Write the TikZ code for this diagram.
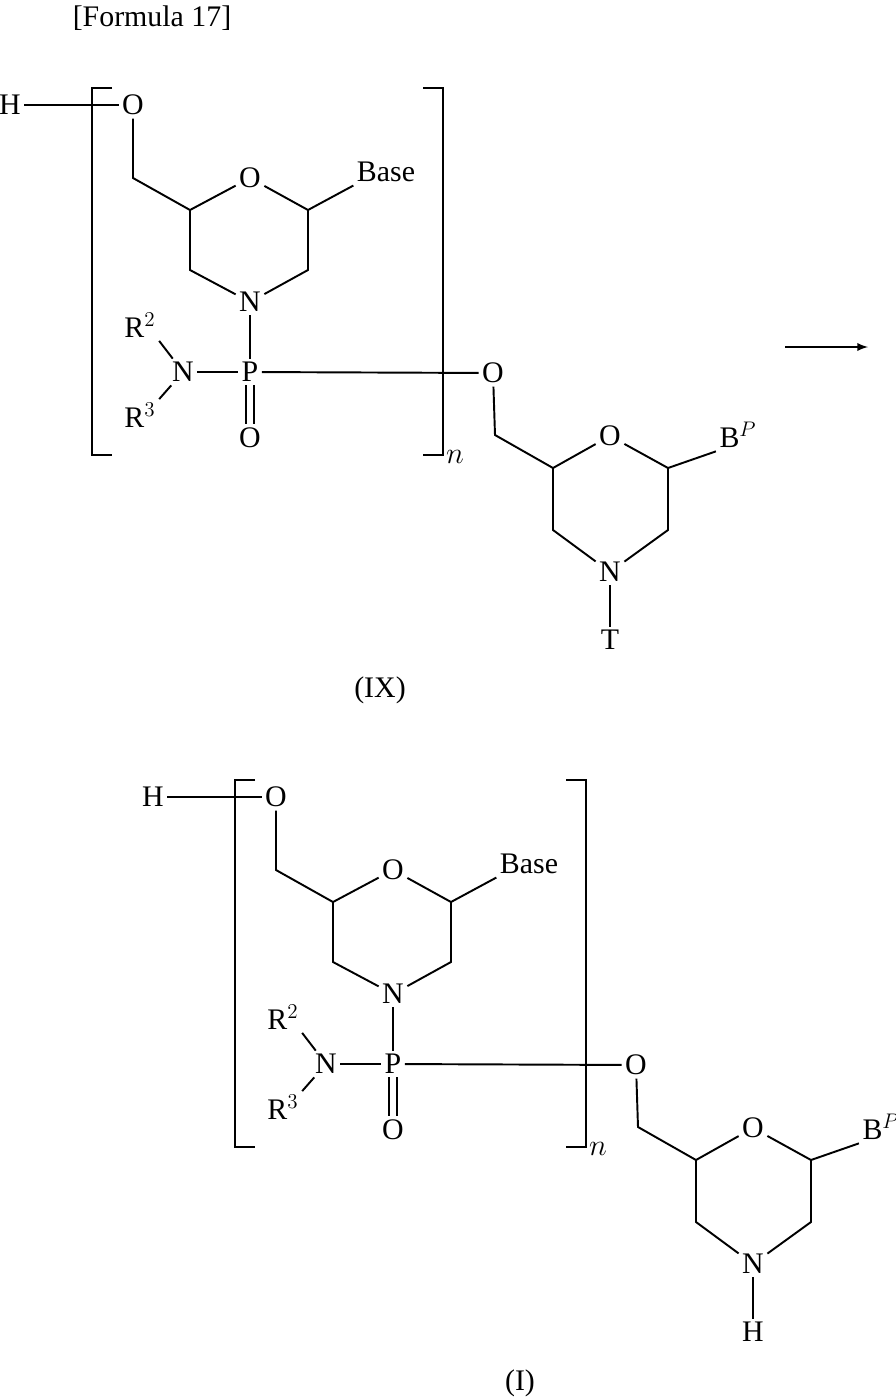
\documentclass[tikz,border=0pt]{standalone}
\usepackage{fontspec}
\setmainfont{Liberation Serif}
\begin{document}
\begin{tikzpicture}[x=0.02cm,y=-0.02cm,line width=1.1pt,
  atom/.style={inner sep=1.5pt,font=\fontsize{17}{20}\selectfont},
  lbl/.style={inner sep=0pt,font=\fontsize{17}{20}\selectfont}]
\useasboundingbox (0,0) rectangle (896,1397);
\node[lbl] (title) at (152,18) {[Formula 17]};
\foreach \dx/\dy/\bot/\s in {0/0/T/a,143/692/H/b}{
\begin{scope}[shift={(\dx,\dy)}]
  \node[atom] (H\s) at (10,105) {H};
  \node[atom] (Oa\s) at (133,105) {O};
  \coordinate (c1\s) at (133,178);
  \coordinate (c2\s) at (190,210);
  \node[atom] (Or\s) at (250,178) {O};
  \coordinate (c3\s) at (308,210);
  \coordinate (c4\s) at (308,270);
  \coordinate (c5\s) at (190,270);
  \node[atom] (N\s) at (250,302) {N};
  \node[atom] (Base\s) at (386,172) {Base};
  \node[atom] (P\s) at (250,372) {P};
  \node[atom] (Op\s) at (250,438) {O};
  \node[atom] (Nr\s) at (183,372) {N};
  \node[atom] (R2\s) at (140,325) {R$^2$};
  \node[atom] (R3\s) at (140,415) {R$^3$};
  \node[atom] (Ob\s) at (493,373) {O};
  \node[atom] (nn\s) at (455,457) {$n$};
  % brackets
  \draw (112,88) -- (92,88) -- (92,455) -- (112,455);
  \draw (423,88) -- (443,88) -- (443,455) -- (423,455);
  \draw (H\s) -- (Oa\s.west);
  \draw (Oa\s) -- (c1\s) -- (c2\s) -- (Or\s) -- (c3\s) -- (c4\s) -- (N\s) -- (c5\s) -- (c2\s);
  \draw (c3\s) -- (Base\s.south west);
  \draw (N\s) -- (P\s);
  \draw ([xshift=-2.3pt]P\s.south) -- ([xshift=-2.3pt]Op\s.north);
  \draw ([xshift=2.3pt]P\s.south) -- ([xshift=2.3pt]Op\s.north);
  \draw (Nr\s) -- (P\s);
  \draw (Nr\s) -- (R2\s.south east);
  \draw (Nr\s) -- (R3\s.north east);
  \draw (P\s) -- (Ob\s);
  % second unit
  \coordinate (d1\s) at (495,435);
  \coordinate (d2\s) at (553,468);
  \node[atom] (Or2\s) at (610,436) {O};
  \coordinate (d3\s) at (668,468);
  \coordinate (d4\s) at (668,530);
  \node[atom] (N2\s) at (610,572) {N};
  \coordinate (d5\s) at (553,530);
  \node[atom] (BP\s) at (738,435) {B$^{P}$};
  \node[atom] (Tx\s) at (610,640) {\bot};
  \draw (Ob\s) -- (d1\s) -- (d2\s) -- (Or2\s) -- (d3\s) -- (d4\s) -- (N2\s) -- (d5\s) -- (d2\s);
  \draw (d3\s) -- (BP\s.south west);
  \draw (N2\s) -- (Tx\s);
\end{scope}}
\node[lbl] (lIX) at (380,690) {(IX)};
\node[lbl] (lI) at (520,1383) {(I)};
\coordinate (arA) at (785,347);
\coordinate (arB) at (868,347);
\draw[-latex] (arA) -- (arB);
\end{tikzpicture}
\end{document}
